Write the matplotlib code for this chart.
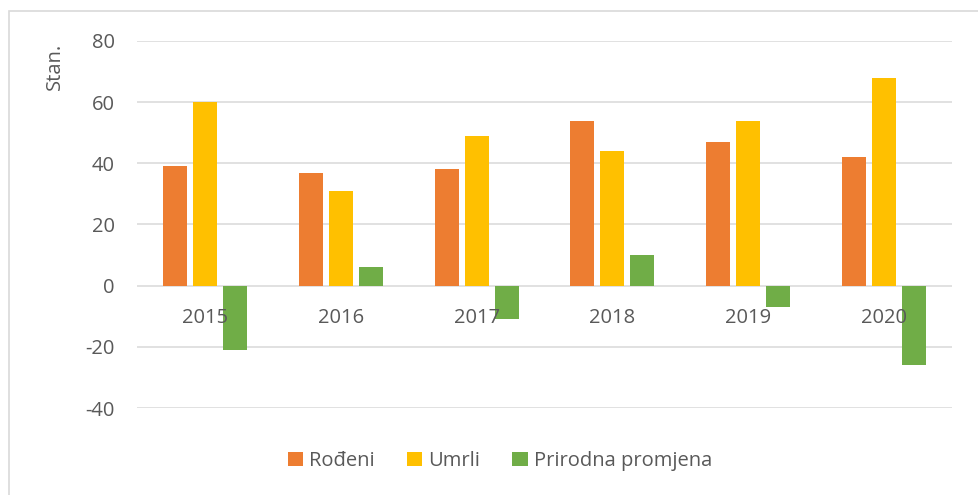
import matplotlib
matplotlib.use("Agg")
import matplotlib.pyplot as plt
from matplotlib.patches import Rectangle
import numpy as np

years = ["2015", "2016", "2017", "2018", "2019", "2020"]
rodeni = [39, 37, 38, 54, 47, 42]
umrli = [60, 31, 49, 44, 54, 68]
prirodna = [-21, 6, -11, 10, -7, -26]
series_names = ["Rođeni", "Umrli", "Prirodna promjena"]
colors = ["#ED7D31", "#FFC000", "#70AD47"]
yticks = [-40, -20, 0, 20, 40, 60, 80]

plt.rcParams['font.family'] = ['Open Sans', 'DejaVu Sans']
txt = "#595959"
grid = "#D9D9D9"
fs = 14.5

fig = plt.figure(figsize=(9.79, 4.95), dpi=100)
ax = fig.add_axes([137/979, 1-408/495, (952-137)/979, (408-41)/495])

x = np.arange(len(years))
w = 0.177
off = 0.221
for i, (vals, c, n) in enumerate(zip([rodeni, umrli, prirodna], colors, series_names)):
    ax.bar(x + (i-1)*off, vals, width=w, color=c, label=n, zorder=3)

ax.set_xlim(-0.5, len(years)-0.5)
ax.set_ylim(-40, 80)
ax.set_yticks(yticks)
ax.set_yticklabels([str(v) for v in yticks], fontsize=fs, color=txt)
ax.tick_params(axis='y', length=0, pad=16)
ax.set_xticks([])
for s in ax.spines.values():
    s.set_visible(False)
for v in yticks:
    ax.axhline(v, color=grid, lw=1.1, zorder=1)

for i, yr in enumerate(years):
    ax.annotate(yr, (i, 0), xytext=(0, -23), textcoords='offset points',
                ha='center', va='center', fontsize=fs, color=txt, zorder=4)

fig.text(55/979, 1-66/495, "Stan.", rotation=90, ha='center', va='center',
         fontsize=fs, color=txt)

leg = fig.legend(loc='center', bbox_to_anchor=(500/979, 1-461/495), ncol=3,
                 frameon=False, fontsize=fs, handlelength=0.75, handleheight=0.75,
                 handletextpad=0.3, columnspacing=1.6)
for t in leg.get_texts():
    t.set_color(txt)

fig.patches.append(Rectangle((9/979, -0.1), 1.1, 1-11/495+0.1, transform=fig.transFigure,
                             fill=False, edgecolor="#D9D9D9", lw=1.2))

fig.savefig("out.png", dpi=100)
